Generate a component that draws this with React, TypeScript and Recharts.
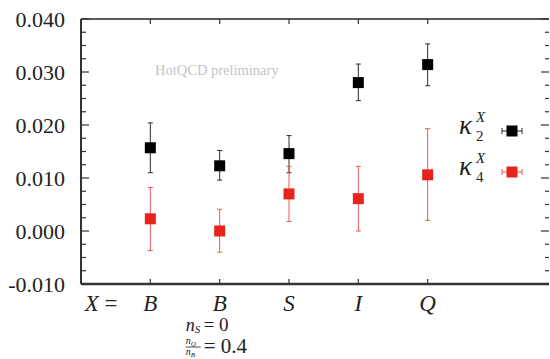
import React from 'react';
import { ScatterChart, Scatter, XAxis, YAxis, ErrorBar } from 'recharts';

// bottom category labels and where they sit on the x axis
const categoryLabels = ['X =', 'B', 'B', 'S', 'I', 'Q'];
const categoryPositions = [0.29, 1, 2, 3, 4, 5];
const pointPositions = [1, 2, 3, 4, 5];

// kappa_2^X
const kappa2Values = [0.0157, 0.0123, 0.0146, 0.028, 0.0314];
const kappa2Low = [0.011, 0.0096, 0.011, 0.0246, 0.0274];
const kappa2High = [0.0204, 0.0152, 0.018, 0.0315, 0.0353];

// kappa_4^X
const kappa4Values = [0.0023, 0.0, 0.007, 0.0061, 0.0106];
const kappa4Low = [-0.0037, -0.004, 0.0018, 0.0, 0.002];
const kappa4High = [0.0082, 0.0041, 0.0122, 0.0122, 0.0193];

const yTicks = [
  -0.01, -0.0075, -0.005, -0.0025, 0, 0.0025, 0.005, 0.0075, 0.01, 0.0125, 0.015,
  0.0175, 0.02, 0.0225, 0.025, 0.0275, 0.03, 0.0325, 0.035, 0.0375, 0.04,
];

const seriesSubscripts = ['2', '4'];
const seriesColors = ['#000000', '#e8231b'];
const errorColors = ['#2a2a2a', '#ec5a52'];

const withErrors = (vals: number[], lo: number[], hi: number[]) =>
  pointPositions.map((x, i) => ({ x, y: vals[i], err: [vals[i] - lo[i], hi[i] - vals[i]] }));

const kappa2Data = withErrors(kappa2Values, kappa2Low, kappa2High);
const kappa4Data = withErrors(kappa4Values, kappa4Low, kappa4High);

const FONT = "'Liberation Serif', 'Times New Roman', serif";
const AXIS = '#333333';
const serif = { fontFamily: FONT };

const isMajor = (v: number) => Math.abs(v * 100 - Math.round(v * 100)) < 1e-6;

const LeftTick = (props: any) => {
  const { x, y, payload } = props;
  const v = payload.value as number;
  const major = isMajor(v);
  const ax = x + 16;
  return (
    <g>
      <line x1={ax} x2={ax + (major ? 8 : 5)} y1={y} y2={y} stroke={AXIS} strokeWidth={1.2} />
      {major && (
        <text x={x} y={y} dy="0.35em" textAnchor="end" style={serif} fontSize={22} fill="#222">
          {v.toFixed(3)}
        </text>
      )}
    </g>
  );
};

const RightTick = (props: any) => {
  const { x, y, payload } = props;
  const major = isMajor(payload.value);
  return <line x1={x - (major ? 8 : 4)} x2={x} y1={y} y2={y} stroke={AXIS} strokeWidth={1.2} />;
};

const TopTick = (props: any) => {
  const { x, y } = props;
  return <line x1={x} x2={x} y1={y} y2={y + 5} stroke={AXIS} strokeWidth={1.2} />;
};

const BottomTick = (props: any) => {
  const { x, y, payload } = props;
  const idx = categoryPositions.indexOf(payload.value);
  const label = categoryLabels[idx];
  if (idx === 0) {
    return (
      <text x={x} y={y + 27} textAnchor="middle" style={serif} fontSize={23} fill="#222">
        <tspan fontStyle="italic">X</tspan>
        <tspan> =</tspan>
      </text>
    );
  }
  return (
    <g style={serif} fill="#222">
      <line x1={x} x2={x} y1={y} y2={y - 5} stroke={AXIS} strokeWidth={1.2} />
      <text x={x} y={y + 27} textAnchor="middle" fontSize={23} fontStyle="italic" style={serif}>
        {label}
      </text>
      {idx === 2 && (
        <g>
          <text x={x - 34} y={y + 47} fontSize={18} style={serif}>
            <tspan fontStyle="italic">n</tspan>
            <tspan fontStyle="italic" fontSize={11} dy={2}>S</tspan>
          </text>
          <text x={x - 16} y={y + 47} fontSize={19} style={serif}>= 0</text>
          <text x={x - 34} y={y + 60} fontSize={10} style={serif}>
            <tspan fontStyle="italic">n</tspan>
            <tspan fontStyle="italic" fontSize={7} dy={2}>Q</tspan>
          </text>
          <line x1={x - 34} x2={x - 19} y1={y + 63} y2={y + 63} stroke="#222" strokeWidth={0.8} />
          <text x={x - 34} y={y + 71} fontSize={10} style={serif}>
            <tspan fontStyle="italic">n</tspan>
            <tspan fontStyle="italic" fontSize={7} dy={2}>B</tspan>
          </text>
          <text x={x - 16} y={y + 69} fontSize={21} style={serif}>= 0.4</text>
        </g>
      )}
    </g>
  );
};

const squareShape = (color: string) => (p: any) => (
  <rect x={p.cx - 5.5} y={p.cy - 5.5} width={11} height={11} fill={color} />
);

const LegendRow = ({ i }: { i: number }) => (
  <div style={{ position: 'relative', height: 41, fontFamily: FONT }}>
    <span style={{ position: 'absolute', left: 0, top: 0, fontSize: 27, fontStyle: 'italic', lineHeight: '28px' }}>κ</span>
    <span style={{ position: 'absolute', left: 17, top: -2, fontSize: 15, fontStyle: 'italic', lineHeight: '16px' }}>X</span>
    <span style={{ position: 'absolute', left: 17, top: 17, fontSize: 15, lineHeight: '16px' }}>{seriesSubscripts[i]}</span>
    <svg style={{ position: 'absolute', left: 42, top: 14 }} width={22} height={12}>
      <line x1={1} x2={21} y1={6} y2={6} stroke={errorColors[i]} strokeWidth={1} />
      <line x1={1} x2={1} y1={3} y2={9} stroke={errorColors[i]} strokeWidth={1} />
      <line x1={21} x2={21} y1={3} y2={9} stroke={errorColors[i]} strokeWidth={1} />
      <rect x={5.5} y={0.5} width={11} height={11} fill={seriesColors[i]} />
    </svg>
  </div>
);

export default function App() {
  return (
    <div style={{ position: 'absolute', left: 0, top: 0, width: 550, height: 359, background: '#fff', fontFamily: FONT, color: '#222' }}>
      <ScatterChart width={550} height={359} margin={{ top: 0, right: 0, bottom: 0, left: 0 }} style={serif}>
        <XAxis
          xAxisId="b"
          dataKey="x"
          type="number"
          domain={[0, 6.75]}
          allowDataOverflow
          ticks={categoryPositions}
          interval={0}
          height={75}
          tickSize={0}
          tickMargin={0}
          tickLine={false}
          tick={<BottomTick />}
          axisLine={{ stroke: AXIS, strokeWidth: 2.5 }}
        />
        <XAxis
          xAxisId="t"
          orientation="top"
          dataKey="x"
          type="number"
          domain={[0, 6.75]}
          allowDataOverflow
          ticks={pointPositions}
          interval={0}
          height={19}
          tickSize={0}
          tickMargin={0}
          tickLine={false}
          tick={<TopTick />}
          axisLine={{ stroke: '#222', strokeWidth: 1.6 }}
        />
        <YAxis
          yAxisId="l"
          dataKey="y"
          type="number"
          domain={[-0.01, 0.04]}
          allowDataOverflow
          ticks={yTicks}
          interval={0}
          width={81}
          tickSize={0}
          tickMargin={16}
          tickLine={false}
          tick={<LeftTick />}
          axisLine={{ stroke: AXIS, strokeWidth: 2 }}
        />
        <YAxis
          yAxisId="r"
          orientation="right"
          dataKey="y"
          type="number"
          domain={[-0.01, 0.04]}
          allowDataOverflow
          ticks={yTicks}
          interval={0}
          width={1}
          tickSize={0}
          tickMargin={0}
          tickLine={false}
          tick={<RightTick />}
          axisLine={false}
        />
        <Scatter
          name="kappa2"
          data={kappa2Data}
          xAxisId="b"
          yAxisId="l"
          shape={squareShape(seriesColors[0])}
          isAnimationActive={false}
        >
          <ErrorBar dataKey="err" direction="y" width={2.5} stroke={errorColors[0]} strokeWidth={1} isAnimationActive={false} />
        </Scatter>
        <Scatter
          name="kappa4"
          data={kappa4Data}
          xAxisId="t"
          yAxisId="r"
          shape={squareShape(seriesColors[1])}
          isAnimationActive={false}
        >
          <ErrorBar dataKey="err" direction="y" width={2.5} stroke={errorColors[1]} strokeWidth={1} isAnimationActive={false} />
        </Scatter>
      </ScatterChart>

      <div style={{ position: 'absolute', left: 155, top: 62, fontSize: 14.5, color: '#c4c4c4', whiteSpace: 'nowrap' }}>
        HotQCD preliminary
      </div>

      <div style={{ position: 'absolute', left: 459, top: 111, width: 70 }}>
        {seriesSubscripts.map((_, i) => (
          <LegendRow key={i} i={i} />
        ))}
      </div>
    </div>
  );
}
